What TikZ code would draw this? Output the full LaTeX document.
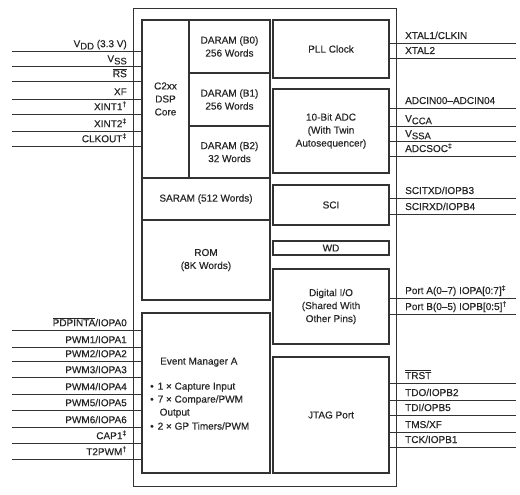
\documentclass[tikz,border=0pt]{standalone}
\usepackage{fontspec}
\setmainfont[FakeBold=0.4]{Liberation Sans}
\usepackage{tikz}

\newcommand{\pinsub}[1]{\raisebox{-2.2pt}{\fontsize{9.5}{10}\selectfont #1}}
\newcommand{\pinbar}[1]{$\overline{\mbox{#1}}$}

\begin{document}
\begin{tikzpicture}[x=1pt,y=-1pt]
            \tikzstyle{block}=[rectangle,draw=black!80,line width=1.1pt,inner sep=0pt,align=center,text=black!85,font=\fontsize{10}{13}\selectfont]
            \tikzstyle{pintext}=[inner sep=0pt,text=black!85,font=\fontsize{10}{12}\selectfont]
            \tikzstyle{pinline}=[draw=black!80,line width=0.8pt]
            \useasboundingbox (0,0) rectangle (520,495);

            % chip frame
            \node[block,line width=0.8pt,minimum width=263pt,minimum height=478pt] (chip) at (264.5,247) {};

            % left column
            \node[block,minimum width=47pt,minimum height=158pt] (core) at (165.5,99) {C2xx\\DSP\\Core};
            \foreach \num/\y/\h/\w in {0/46.5/53/256, 1/99.5/53/256, 2/152/52/32}
                    \node[block,minimum width=81pt,minimum height=\h pt] (B\num) at (229.5,\y) {DARAM (B\num)\\\w\ Words};
            \node[block,minimum width=128pt,minimum height=42pt] (saram) at (206,199) {SARAM (512 Words)};
            \node[block,minimum width=128pt,minimum height=80pt] (rom) at (206,260) {ROM\\(8K Words)};
            \node[block,minimum width=128pt,minimum height=160pt] (evm) at (206,393) {};
            \node[pintext,anchor=base west] (evm-title) at (160,364.6) {Event Manager A};
            \foreach \num/\y/\txt in {1/389.6/{•\hspace{4pt}1 × Capture Input}, 2/402.6/{•\hspace{4pt}7 × Compare/PWM}, 3/415.6/{\hspace{9.5pt}Output}, 4/429.6/{•\hspace{4pt}2 × GP Timers/PWM}}
                    \node[pintext,anchor=base west] (evm-\num) at (150,\y) {\txt};

            % right column
            \node[block,minimum width=116pt,minimum height=58pt] (pll) at (331,49) {PLL Clock};
            \node[block,minimum width=116pt,minimum height=84pt] (adc) at (331,131) {10-Bit ADC\\(With Twin\\Autosequencer)};
            \node[block,minimum width=116pt,minimum height=40pt] (sci) at (331,205) {SCI};
            \node[block,minimum width=116pt,minimum height=14pt] (wd) at (331,248) {WD};
            \node[block,minimum width=116pt,minimum height=75pt] (dio) at (331,306.5) {Digital I/O\\(Shared With\\Other Pins)};
            \node[block,minimum width=116pt,minimum height=116pt] (jtag) at (331,415) {JTAG Port};

            % pins on the left
            \foreach \num/\y/\blk/\txt in {1/51/core/{V\pinsub{DD} {\fontsize{10}{11}\selectfont(3.3 V)}}, 2/66/core/{V\pinsub{SS}},
                    3/81/core/{\pinbar{RS}}, 4/99/core/{XF}, 5/114/core/{XINT1\textsuperscript{†}},
                    6/131/core/{XINT2\textsuperscript{‡}}, 7/146/core/{CLKOUT\textsuperscript{‡}},
                    8/330/evm/{\pinbar{PDPINTA}/IOPA0}, 9/347/evm/{PWM1/IOPA1}, 10/361/evm/{PWM2/IOPA2},
                    11/377/evm/{PWM3/IOPA3}, 12/394/evm/{PWM4/IOPA4}, 13/410/evm/{PWM5/IOPA5},
                    14/427/evm/{PWM6/IOPA6}, 15/443/evm/{CAP1\textsuperscript{‡}}, 16/459/evm/{T2PWM\textsuperscript{†}}}
            {
                    \coordinate (LP-\num) at (12,\y);
                    \draw[pinline] (LP-\num) -- (\blk.west |- LP-\num);
                    \node[pintext,anchor=base east] (LT-\num) at (127,\y-3.8) {\txt};
            }

            % pins on the right
            \foreach \num/\y/\blk/\txt in {1/43/pll/{XTAL1/CLKIN}, 2/58/pll/{XTAL2},
                    3/108/adc/{ADCIN00–ADCIN04}, 4/126/adc/{V\pinsub{CCA}}, 5/141/adc/{V\pinsub{SSA}}, 6/156/adc/{ADCSOC\textsuperscript{‡}},
                    7/198/sci/{SCITXD/IOPB3}, 8/214/sci/{SCIRXD/IOPB4},
                    9/298/dio/{Port A(0–7) IOPA[0:7]\textsuperscript{‡}}, 10/314/dio/{Port B(0–5) IOPB[0:5]\textsuperscript{†}},
                    11/383/jtag/{\pinbar{TRST}}, 12/400/jtag/{TDO/IOPB2}, 13/415/jtag/{TDI/OPB5},
                    14/432/jtag/{TMS/XF}, 15/447/jtag/{TCK/IOPB1}}
            {
                    \coordinate (RP-\num) at (516,\y);
                    \draw[pinline] (\blk.east |- RP-\num) -- (RP-\num);
                    \node[pintext,anchor=base west] (RT-\num) at (405,\y-4) {\txt};
            }
\end{tikzpicture}
\end{document}
